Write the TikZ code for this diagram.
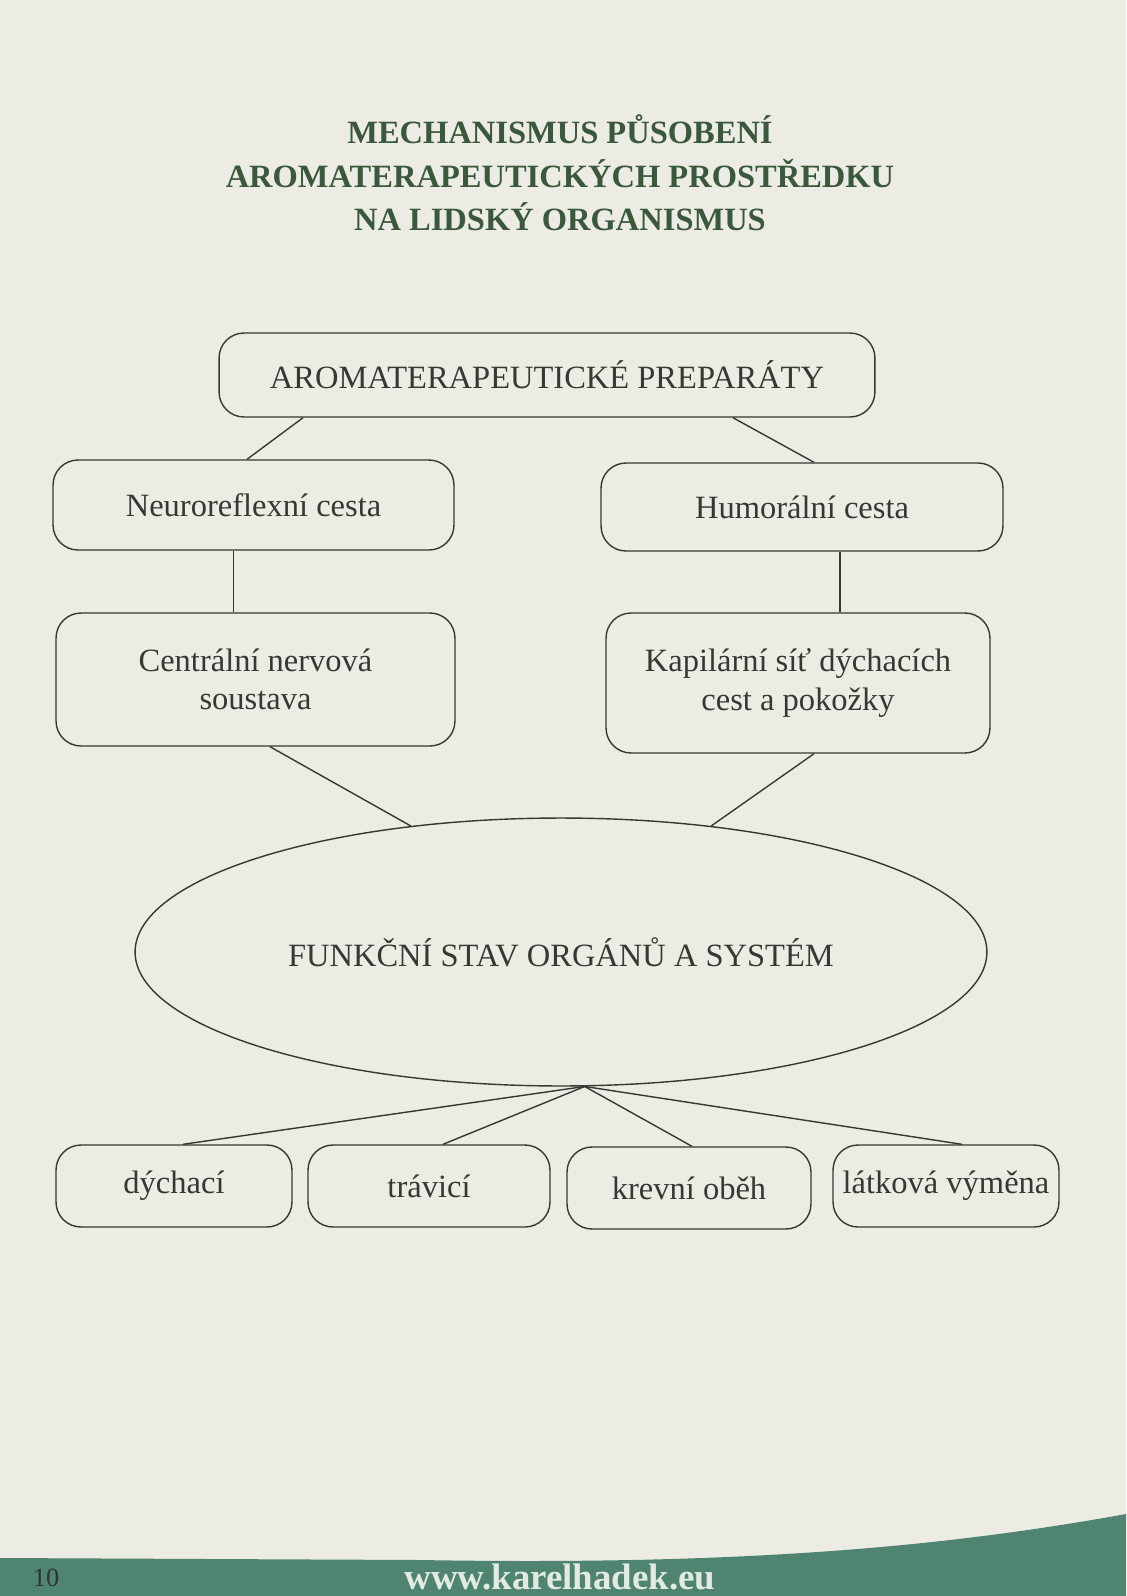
\documentclass[tikz,border=0pt]{standalone}
\usepackage{fontspec}
\setmainfont{Liberation Serif}
\usepackage{tikz}
\usetikzlibrary{shapes.geometric,calc}

\definecolor{pagebg}{RGB}{236,236,229}
\definecolor{titlegreen}{RGB}{58,88,60}
\definecolor{inkgray}{RGB}{55,55,52}
\definecolor{footgreen}{RGB}{78,132,112}
\definecolor{urlwhite}{RGB}{226,234,226}

\begin{document}
\begin{tikzpicture}[
  x=0.02cm, y=-0.02cm,
  font=\fontsize{18.5}{22}\selectfont,
  box/.style={draw=inkgray, line width=0.8pt, rounded corners=0.5cm, text=inkgray, align=center, inner sep=2pt},
  oval/.style={draw=inkgray, line width=0.8pt, ellipse, text=inkgray, inner sep=0pt},
  link/.style={draw=inkgray, line width=0.8pt},
]
% page and footer
\fill[pagebg] (0,0) rectangle (1126,1596);
\useasboundingbox (0,0) rectangle (1126,1596);
\fill[footgreen] (0,1558) -- (420,1560) .. controls (760,1566) and (960,1544) .. (1126,1514) -- (1126,1596) -- (0,1596) -- cycle;

% title
\node[text=titlegreen, font=\fontsize{18.5}{24.7}\selectfont\bfseries, align=center] (title) at (560,173)
  {MECHANISMUS PŮSOBENÍ\\AROMATERAPEUTICKÝCH PROSTŘEDKU\\NA LIDSKÝ ORGANISMUS};

% boxes
\node[box, minimum width=13.12cm, minimum height=1.68cm] (prep)  at (547,375) {AROMATERAPEUTICKÉ PREPARÁTY};
\node[box, minimum width=8.02cm, minimum height=1.8cm]   (neuro) at (253.5,505) {Neuroreflexní cesta};
\node[box, minimum width=8.04cm, minimum height=1.76cm]  (humor) at (802,507) {Humorální cesta};
\node[box, minimum width=7.98cm, minimum height=2.66cm]  (cns)   at (255.5,679.5) {Centrální nervová\\soustava};
\node[box, minimum width=7.68cm, minimum height=2.8cm]   (kapil) at (798,683) {Kapilární síť dýchacích\\cest a pokožky};
\node[oval, minimum width=17.04cm, minimum height=5.36cm] (stav) at (561,952) {FUNKČNÍ STAV ORGÁNŮ A SYSTÉM};

% organ systems
\node[box, minimum width=4.72cm, minimum height=1.64cm] (dych) at (174,1186) {dýchací};
\node[box, minimum width=4.84cm, minimum height=1.64cm] (trav) at (429,1186) {trávicí};
\node[box, minimum width=4.88cm, minimum height=1.64cm] (krev) at (689,1188) {krevní oběh};
\node[box, minimum width=4.52cm, minimum height=1.64cm] (latk) at (946,1186) {látková výměna};

% connectors
\draw[link] ([xshift=-4.88cm]prep.south) -- ([xshift=-0.13cm]neuro.north);
\draw[link] ([xshift=3.72cm]prep.south) -- ([xshift=0.24cm]humor.north);
\draw[link] ([xshift=-0.4cm]neuro.south) -- ([xshift=-0.4cm]neuro.south |- cns.north);
\draw[link] ([xshift=0.76cm]humor.south) -- ([xshift=0.76cm]humor.south |- kapil.north);
\draw[link] ([xshift=0.29cm]cns.south) -- (stav.140);
\draw[link] ([xshift=0.32cm]kapil.south) -- (stav.40);

\coordinate (hub) at (stav.280);
\draw[link] (hub) -- ([xshift=0.18cm]dych.north);
\draw[link] (hub) -- ([xshift=0.28cm]trav.north);
\draw[link] (hub) -- ([xshift=0.06cm]krev.north);
\draw[link] (hub) -- ([xshift=0.32cm]latk.north);

% footer text
\node[text=black!80, font=\fontsize{15}{17}\selectfont] (page) at (46,1578) {10};
\node[text=urlwhite, font=\fontsize{21}{24}\selectfont\bfseries] (url) at (560,1577) {www.karelhadek.eu};
\end{tikzpicture}
\end{document}
